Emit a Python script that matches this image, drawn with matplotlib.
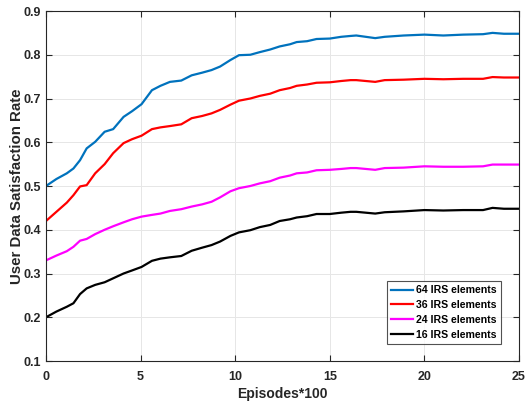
import matplotlib
matplotlib.use('Agg')
from matplotlib import pyplot as plt

plt.rcParams['font.family'] = ['Liberation Sans', 'DejaVu Sans']
plt.rcParams['font.weight'] = 'bold'

episodes = [0, 0.55, 1.1, 1.45, 1.8, 2.15, 2.6, 3.1, 3.55, 4.1, 4.55, 5.05, 5.6, 6.05, 6.55,
            7.15, 7.7, 8.25, 8.75, 9.2, 9.75, 10.2, 10.8, 11.3, 11.85, 12.35, 12.9, 13.25,
            13.8, 14.3, 15.0, 15.6, 16.1, 16.4, 17.4, 17.9, 18.9, 20.0, 21.0, 22.05, 23.1,
            23.6, 24.2, 25]

irs64 = [0.500, 0.516, 0.529, 0.540, 0.559, 0.586, 0.601, 0.624, 0.630, 0.658, 0.671, 0.687,
         0.719, 0.729, 0.738, 0.741, 0.753, 0.759, 0.765, 0.773, 0.788, 0.799, 0.800, 0.806,
         0.812, 0.819, 0.824, 0.829, 0.831, 0.836, 0.837, 0.841, 0.843, 0.844, 0.838, 0.841,
         0.844, 0.846, 0.844, 0.846, 0.847, 0.850, 0.848, 0.848]
irs36 = [0.420, 0.441, 0.462, 0.479, 0.499, 0.502, 0.529, 0.550, 0.575, 0.598, 0.607, 0.615,
         0.630, 0.634, 0.637, 0.641, 0.655, 0.660, 0.666, 0.674, 0.686, 0.695, 0.700, 0.706,
         0.711, 0.719, 0.724, 0.729, 0.732, 0.736, 0.737, 0.740, 0.742, 0.742, 0.738, 0.742,
         0.743, 0.745, 0.744, 0.745, 0.745, 0.749, 0.748, 0.748]
irs24 = [0.330, 0.341, 0.351, 0.361, 0.375, 0.379, 0.390, 0.400, 0.408, 0.417, 0.424, 0.430,
         0.434, 0.437, 0.443, 0.447, 0.453, 0.458, 0.464, 0.474, 0.488, 0.495, 0.500, 0.506,
         0.511, 0.519, 0.524, 0.529, 0.531, 0.536, 0.537, 0.539, 0.541, 0.541, 0.537, 0.541,
         0.542, 0.545, 0.544, 0.544, 0.545, 0.549, 0.549, 0.549]
irs16 = [0.200, 0.213, 0.224, 0.232, 0.253, 0.266, 0.274, 0.280, 0.289, 0.300, 0.307, 0.315,
         0.329, 0.334, 0.337, 0.340, 0.352, 0.359, 0.365, 0.373, 0.386, 0.394, 0.399, 0.406,
         0.411, 0.420, 0.424, 0.428, 0.431, 0.436, 0.436, 0.439, 0.441, 0.441, 0.437, 0.440,
         0.442, 0.445, 0.444, 0.445, 0.445, 0.450, 0.448, 0.448]

labels = ['64 IRS elements', '36 IRS elements', '24 IRS elements', '16 IRS elements']
colors = ['#0072BD', '#FF0000', '#FF00FF', '#000000']

fig = plt.figure(figsize=(5.25, 4.03), dpi=100)
ax = fig.add_axes([0.0876, 0.1042, 0.901, 0.8685])

for ys, lab, c in zip([irs64, irs36, irs24, irs16], labels, colors):
    ax.plot(episodes, ys, color=c, linewidth=1.6, label=lab)

ax.set_xlim(0, 25)
ax.set_ylim(0.1, 0.9)
ax.set_xticks([0, 5, 10, 15, 20, 25])
ax.set_yticks([0.1, 0.2, 0.3, 0.4, 0.5, 0.6, 0.7, 0.8, 0.9])
ax.set_yticklabels(['0.1', '0.2', '0.3', '0.4', '0.5', '0.6', '0.7', '0.8', '0.9'])
ax.tick_params(direction='in', top=True, right=True, labelsize=9, length=4, width=0.8,
               colors='#262626', labelcolor='#262626')
ax.tick_params(axis='x', pad=7)
for s in ax.spines.values():
    s.set_color('#262626')
    s.set_linewidth(0.8)
ax.grid(True, color='#e6e6e6', linewidth=0.7)
ax.set_axisbelow(True)

ax.set_xlabel('Episodes*100', fontsize=10, fontweight='bold', color='#262626', labelpad=3)
ax.set_ylabel('User Data Satisfaction Rate', fontsize=10.8, fontweight='bold', color='#262626', labelpad=0)

leg = ax.legend(loc='lower right', bbox_to_anchor=(0.962, 0.049), fontsize=7.6, frameon=True,
                fancybox=False, edgecolor='#262626', handlelength=2.1, borderpad=0.4,
                labelspacing=0.45, handletextpad=0.3, borderaxespad=0)
leg.get_frame().set_linewidth(0.8)
for t in leg.get_texts():
    t.set_fontweight('bold')

fig.savefig('out.png', dpi=100)
